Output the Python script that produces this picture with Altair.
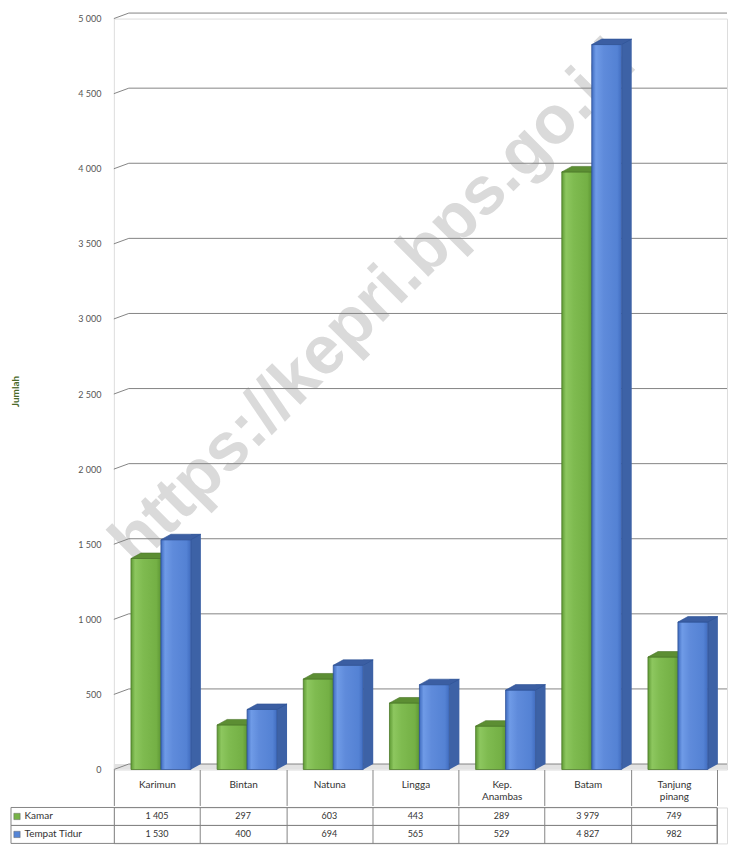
import altair as alt
import pandas as pd

# ---------------- data ----------------
categories = ["Karimun", "Bintan", "Natuna", "Lingga", "Kep. Anambas", "Batam", "Tanjung pinang"]
kamar = [1405, 297, 603, 443, 289, 3979, 749]
tempat_tidur = [1530, 400, 694, 565, 529, 4827, 982]
series_names = ["Kamar", "Tempat Tidur"]
y_ticks = [0, 500, 1000, 1500, 2000, 2500, 3000, 3500, 4000, 4500, 5000]
watermark = "https://kepri.bps.go.id"

# ---------------- layout / style ----------------
W_PLOT = 614
BAND_RANGE = [0, 604]
H = 752
DX, DY = 10, 5.5
GRID = "#858585"
GREEN, BLUE = "#77b347", "#5585d6"

def fmt(v):
    return f"{v:,}".replace(",", " ")

green_df = pd.DataFrame({"cat": categories, "v": kamar, "zero": [0] * len(categories)})
blue_df = pd.DataFrame({"cat": categories, "v": tempat_tidur, "zero": [0] * len(categories)})
grid_df = pd.DataFrame({"t": y_ticks})

xs = alt.Scale(domain=categories, range=BAND_RANGE, paddingInner=0, paddingOuter=0)
ys = alt.Scale(domain=[0, 5000], nice=False, zero=True)

green_grad = alt.Gradient(
    gradient="linear", x1=0, x2=1, y1=0, y2=0,
    stops=[alt.GradientStop(color="#5f9a35", offset=0),
           alt.GradientStop(color="#8dc75f", offset=0.14),
           alt.GradientStop(color="#7fbb50", offset=0.4),
           alt.GradientStop(color="#74b045", offset=0.85),
           alt.GradientStop(color="#5e9734", offset=1)])
blue_grad = alt.Gradient(
    gradient="linear", x1=0, x2=1, y1=0, y2=0,
    stops=[alt.GradientStop(color="#3f6bbf", offset=0),
           alt.GradientStop(color="#6f9be7", offset=0.14),
           alt.GradientStop(color="#5f8bdb", offset=0.4),
           alt.GradientStop(color="#5482d4", offset=0.85),
           alt.GradientStop(color="#416dc0", offset=1)])

TOP_SHAPE = "M-1,0.1375L0.5,0.1375L1,-0.1375L-0.5,-0.1375Z"
TRI_SHAPE = "M-1,0.55L-1,-0.55L1,-0.55Z"

xaxis = alt.Axis(title=None, domain=False, ticks=True, tickBand="extent", tickSize=36,
                 tickColor=GRID, tickWidth=1, labelExpr="split(datum.label, ' ')",
                 labelBaseline="middle", labelPadding=-21, labelFontSize=10,
                 labelColor="#333333", labelLineHeight=12, labelAngle=0, grid=False,
                 labelOverlap=False)
yaxis = alt.Axis(title="Jumlah", values=y_ticks, grid=False, ticks=False, tickSize=0,
                 domain=False, labelPadding=13, labelFontSize=9, labelColor="#555555",
                 labelExpr="replace(format(datum.value, ','), ',', ' ')",
                 titleX=-98, titleY=373, titleAngle=270, titleBaseline="middle",
                 titleFontSize=10, titleFontWeight="bold", titleColor="#4a6a2a")

def xenc():
    return alt.X("cat:N", scale=xs, sort=categories, axis=xaxis)

def yenc(field):
    return alt.Y(field, scale=ys, axis=yaxis, stack=None)

wm = alt.Chart(pd.DataFrame({"t": [watermark]})).mark_text(
    angle=315, fontSize=68, font="Liberation Sans", fontWeight="bold", color="#dadada").encode(
    text="t:N", x=alt.value(260), y=alt.value(285))

floor = alt.Chart(pd.DataFrame({"zero": [0]})).mark_rect(color="#e2e2e2", yOffset=-DY).encode(
    y=yenc("zero:Q"), y2="zero:Q",
    x=alt.value(0), x2=alt.value(W_PLOT))

grid_back = alt.Chart(grid_df).mark_rule(color=GRID, strokeWidth=1, yOffset=-DY).encode(
    y=yenc("t:Q"), x=alt.value(15), x2=alt.value(W_PLOT))
grid_slant = alt.Chart(grid_df).mark_rule(color=GRID, strokeWidth=1, y2Offset=-DY).encode(
    y=yenc("t:Q"), y2="t:Q", x=alt.value(0), x2=alt.value(15))

green_front = alt.Chart(green_df).mark_bar(size=30, xOffset=-11, fill=green_grad,
                                           stroke="#4c7a28", strokeWidth=0.8).encode(
    x=xenc(), y=yenc("v:Q"), y2="zero:Q")
green_top = alt.Chart(green_df).mark_point(shape=TOP_SHAPE, size=1600, filled=True, opacity=1,
                                           color="#5c8e33", stroke="#4a7628", strokeWidth=0.6,
                                           xOffset=-6, yOffset=-DY / 2).encode(
    x=xenc(), y=yenc("v:Q"))

blue_side = alt.Chart(blue_df).mark_bar(size=DX, xOffset=39, yOffset=-DY, y2Offset=-DY,
                                        color="#3d62a6").encode(
    x=xenc(), y=yenc("v:Q"), y2="zero:Q")
blue_tri = alt.Chart(blue_df).mark_point(shape=TRI_SHAPE, size=100, filled=True, opacity=1,
                                         color="#3d62a6", strokeWidth=0,
                                         xOffset=39, yOffset=-DY / 2).encode(
    x=xenc(), y=yenc("zero:Q"))
blue_front = alt.Chart(blue_df).mark_bar(size=30, xOffset=19, fill=blue_grad,
                                         stroke="#2e5296", strokeWidth=0.8).encode(
    x=xenc(), y=yenc("v:Q"), y2="zero:Q")
blue_top = alt.Chart(blue_df).mark_point(shape=TOP_SHAPE, size=1600, filled=True, opacity=1,
                                         color="#3b5ea2", stroke="#2e5296", strokeWidth=0.6,
                                         xOffset=24, yOffset=-DY / 2).encode(
    x=xenc(), y=yenc("v:Q"))

top = alt.layer(wm, floor, grid_back, grid_slant, green_front, green_top,
                blue_side, blue_tri, blue_front, blue_top).properties(width=W_PLOT, height=H)

# ---------------- data table ----------------
rows_df = pd.DataFrame({"row": series_names})
cells = pd.DataFrame({
    "cat": categories * 2,
    "row": [series_names[0]] * len(categories) + [series_names[1]] * len(categories),
    "label": [fmt(v) for v in kamar] + [fmt(v) for v in tempat_tidur],
})
ys_row = alt.Scale(domain=series_names, paddingInner=0, paddingOuter=0)
table_xaxis = alt.Axis(title=None, labels=False, ticks=False, domain=False, grid=True,
                       tickBand="extent", gridColor=GRID, gridWidth=1)
table_yaxis = alt.Axis(title=None, labelAlign="left", labelPadding=90, tickSize=0, ticks=False,
                       domain=False, labelFontSize=10, labelColor="#333333",
                       labelBaseline="middle", grid=False)

def ryenc():
    return alt.Y("row:N", scale=ys_row, sort=series_names, axis=table_yaxis)

boxes = alt.Chart(rows_df).mark_rect(fillOpacity=0, stroke=GRID, strokeWidth=1).encode(
    y=ryenc(), x=alt.value(-103), x2=alt.value(BAND_RANGE[1]))
squares = alt.Chart(rows_df).mark_point(shape="square", filled=True, size=40, opacity=1,
                                        stroke="#666666", strokeWidth=0.5).encode(
    y=ryenc(), x=alt.value(-97),
    color=alt.Color("row:N", scale=alt.Scale(domain=series_names, range=[GREEN, BLUE]), legend=None))
texts = alt.Chart(cells).mark_text(fontSize=9, color="#333333").encode(
    x=alt.X("cat:N", scale=xs, sort=categories, axis=table_xaxis),
    y=ryenc(), text="label:N")

table = alt.layer(boxes, squares, texts).properties(width=W_PLOT, height=36)

chart = alt.vconcat(top, table, spacing=0).properties(
    padding={"left": 2, "top": 3, "right": 0, "bottom": 0}, background="white"
).configure_view(strokeWidth=0).configure(font="Lato")

chart.save("out.html", embed_options={"renderer": "svg", "actions": False})
